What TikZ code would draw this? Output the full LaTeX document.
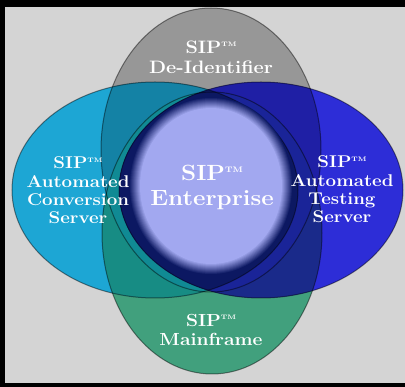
\documentclass[tikz,border=0pt]{standalone}
\usepackage{graphicx}
\definecolor{bgc}{HTML}{D4D4D4}
\definecolor{grayc}{HTML}{979797}
\definecolor{cyanc}{HTML}{1DA6D4}
\definecolor{bluec}{HTML}{2D2DD7}
\definecolor{greenc}{HTML}{41A07D}
\definecolor{ltc}{HTML}{1482A5}
\definecolor{lbc}{HTML}{178C84}
\definecolor{ltbc}{HTML}{108A94}
\definecolor{rtc}{HTML}{1F1FA5}
\definecolor{rbc}{HTML}{1A2A8A}
\definecolor{rtbc}{HTML}{1A2498}
\definecolor{navyc}{HTML}{0C1862}
\definecolor{lavc}{HTML}{A2A8F0}
\tikzset{
  lbl/.style={text=white, font=\bfseries, align=center, inner sep=0pt},
  edge/.style={draw=black, draw opacity=0.45, line width=1pt}
}
\newcommand{\tmk}[1]{\raisebox{0.36em}{\fontsize{#1}{#1}\selectfont TM}}
\newcommand{\wl}[1]{\scalebox{1.1}[1]{#1}}
\begin{document}
\begin{tikzpicture}[x=1pt,y=-1pt]
\useasboundingbox (0,0) rectangle (405,387);
\fill[black] (0,0) rectangle (405,387);
\fill[bgc] (5,7) rectangle (405,383);
% base ellipses
\fill[grayc] (211,150) ellipse [x radius=110pt, y radius=142pt];
\fill[greenc] (212,233) ellipse [x radius=110pt, y radius=141pt];
\fill[cyanc] (155,190) ellipse [x radius=143pt, y radius=108pt];
\fill[bluec] (261,190) ellipse [x radius=142pt, y radius=108pt];
% pairwise overlaps
\begin{scope}
  \clip (155,190) ellipse [x radius=143pt, y radius=108pt];
  \fill[ltc] (211,150) ellipse [x radius=110pt, y radius=142pt];
  \fill[lbc] (212,233) ellipse [x radius=110pt, y radius=141pt];
  \clip (211,150) ellipse [x radius=110pt, y radius=142pt];
  \fill[ltbc] (212,233) ellipse [x radius=110pt, y radius=141pt];
\end{scope}
\begin{scope}
  \clip (261,190) ellipse [x radius=142pt, y radius=108pt];
  \fill[rtc] (211,150) ellipse [x radius=110pt, y radius=142pt];
  \fill[rbc] (212,233) ellipse [x radius=110pt, y radius=141pt];
  \clip (211,150) ellipse [x radius=110pt, y radius=142pt];
  \fill[rtbc] (212,233) ellipse [x radius=110pt, y radius=141pt];
\end{scope}
% central lens
\begin{scope}
  \clip (155,190) ellipse [x radius=143pt, y radius=108pt];
  \fill[navyc] (261,190) ellipse [x radius=142pt, y radius=108pt];
\end{scope}
% outlines
\path[edge] (211,150) ellipse [x radius=110pt, y radius=142pt];
\path[edge] (212,233) ellipse [x radius=110pt, y radius=141pt];
\path[edge] (155,190) ellipse [x radius=143pt, y radius=108pt];
\path[edge] (261,190) ellipse [x radius=142pt, y radius=108pt];
% lavender centre with soft dark rim
\foreach \k in {0,...,11}{
  \pgfmathtruncatemacro{\pct}{\k*100/11}
  \pgfmathsetmacro{\rx}{82-\k}
  \pgfmathsetmacro{\ry}{89-\k}
  \fill[lavc!\pct!navyc] (211,186) ellipse [x radius=\rx pt, y radius=\ry pt];
}
% labels
\node[lbl, font=\bfseries\fontsize{18}{20}\selectfont] (top) at (211,57)
  {\wl{SIP\tmk{6.5}}\\\wl{De-Identifier}};
\node[lbl, font=\bfseries\fontsize{17}{18.3}\selectfont] (left) at (78,190.5)
  {\wl{SIP\tmk{6.5}}\\\wl{Automated}\\\wl{Conversion}\\\wl{Server}};
\node[lbl, font=\bfseries\fontsize{17}{18.3}\selectfont] (right) at (342,189.5)
  {\wl{SIP\tmk{6.5}}\\\wl{Automated}\\\wl{Testing}\\\wl{Server}};
\node[lbl, font=\bfseries\fontsize{22}{25}\selectfont] (centre) at (212,187.5)
  {\wl{SIP\tmk{8}}\\\wl{Enterprise}};
\node[lbl, font=\bfseries\fontsize{17.5}{19}\selectfont] (bottom) at (211,329.5)
  {\wl{SIP\tmk{6.5}}\\\wl{Mainframe}};
\end{tikzpicture}
\end{document}
